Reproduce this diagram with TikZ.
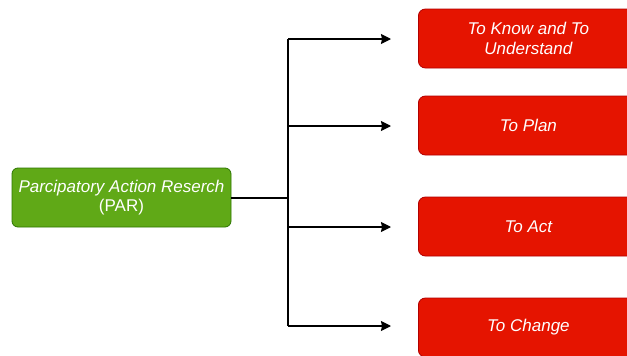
\documentclass[tikz,border=0pt]{standalone}
\usepackage{fontspec}
\setmainfont{Liberation Sans}
\usetikzlibrary{arrows.meta}
\definecolor{pargreen}{HTML}{60A917}
\definecolor{parggreenb}{HTML}{2D7600}
\definecolor{goalred}{HTML}{E51400}
\definecolor{goalredb}{HTML}{B20000}
\tikzset{
  parbox/.style={draw=parggreenb, fill=pargreen, rounded corners=6pt, line width=0.8pt,
    minimum width=219pt, minimum height=59pt, text=white, align=center,
    font=\fontsize{17}{19.5}\selectfont, inner sep=0pt},
  goalbox/.style={draw=goalredb, fill=goalred, rounded corners=7pt, line width=0.8pt,
    minimum width=220pt, minimum height=59pt, text=white, align=center,
    font=\fontsize{17}{20}\selectfont\itshape, inner sep=0pt, anchor=west},
  link/.style={line width=1.3pt, black},
  arr/.style={link, -{Stealth[length=10pt,width=10pt,inset=1pt]}}
}
\begin{document}
\begin{tikzpicture}[x=1pt,y=-1pt]
\useasboundingbox (0,0) rectangle (627,356);
\fill[white] (0,0) rectangle (627,356);
\clip (0,0) rectangle (627,356);
\node[parbox] (par) at (121.5,197.5) {\textit{Parcipatory Action Reserch}\\(PAR)};
\node[goalbox] (g1) at (418,38.5) {To Know and To\\Understand};
\node[goalbox] (g2) at (418,125.5) {To Plan};
\node[goalbox] (g3) at (418,226.5) {To Act};
\node[goalbox] (g4) at (418,327.5) {To Change};
\coordinate (j) at (288,198);
\coordinate (s1) at (288,39);
\coordinate (s2) at (288,126);
\coordinate (s3) at (288,227);
\coordinate (s4) at (288,326);
\coordinate (t1) at (391,39);
\coordinate (t2) at (391,126);
\coordinate (t3) at (391,227);
\coordinate (t4) at (391,326);
\draw[link] (par.east |- j) -- (j);
\draw[link] (s1) -- (s4);
\draw[arr] (s1) -- (t1);
\draw[arr] (s2) -- (t2);
\draw[arr] (s3) -- (t3);
\draw[arr] (s4) -- (t4);
\end{tikzpicture}
\end{document}
